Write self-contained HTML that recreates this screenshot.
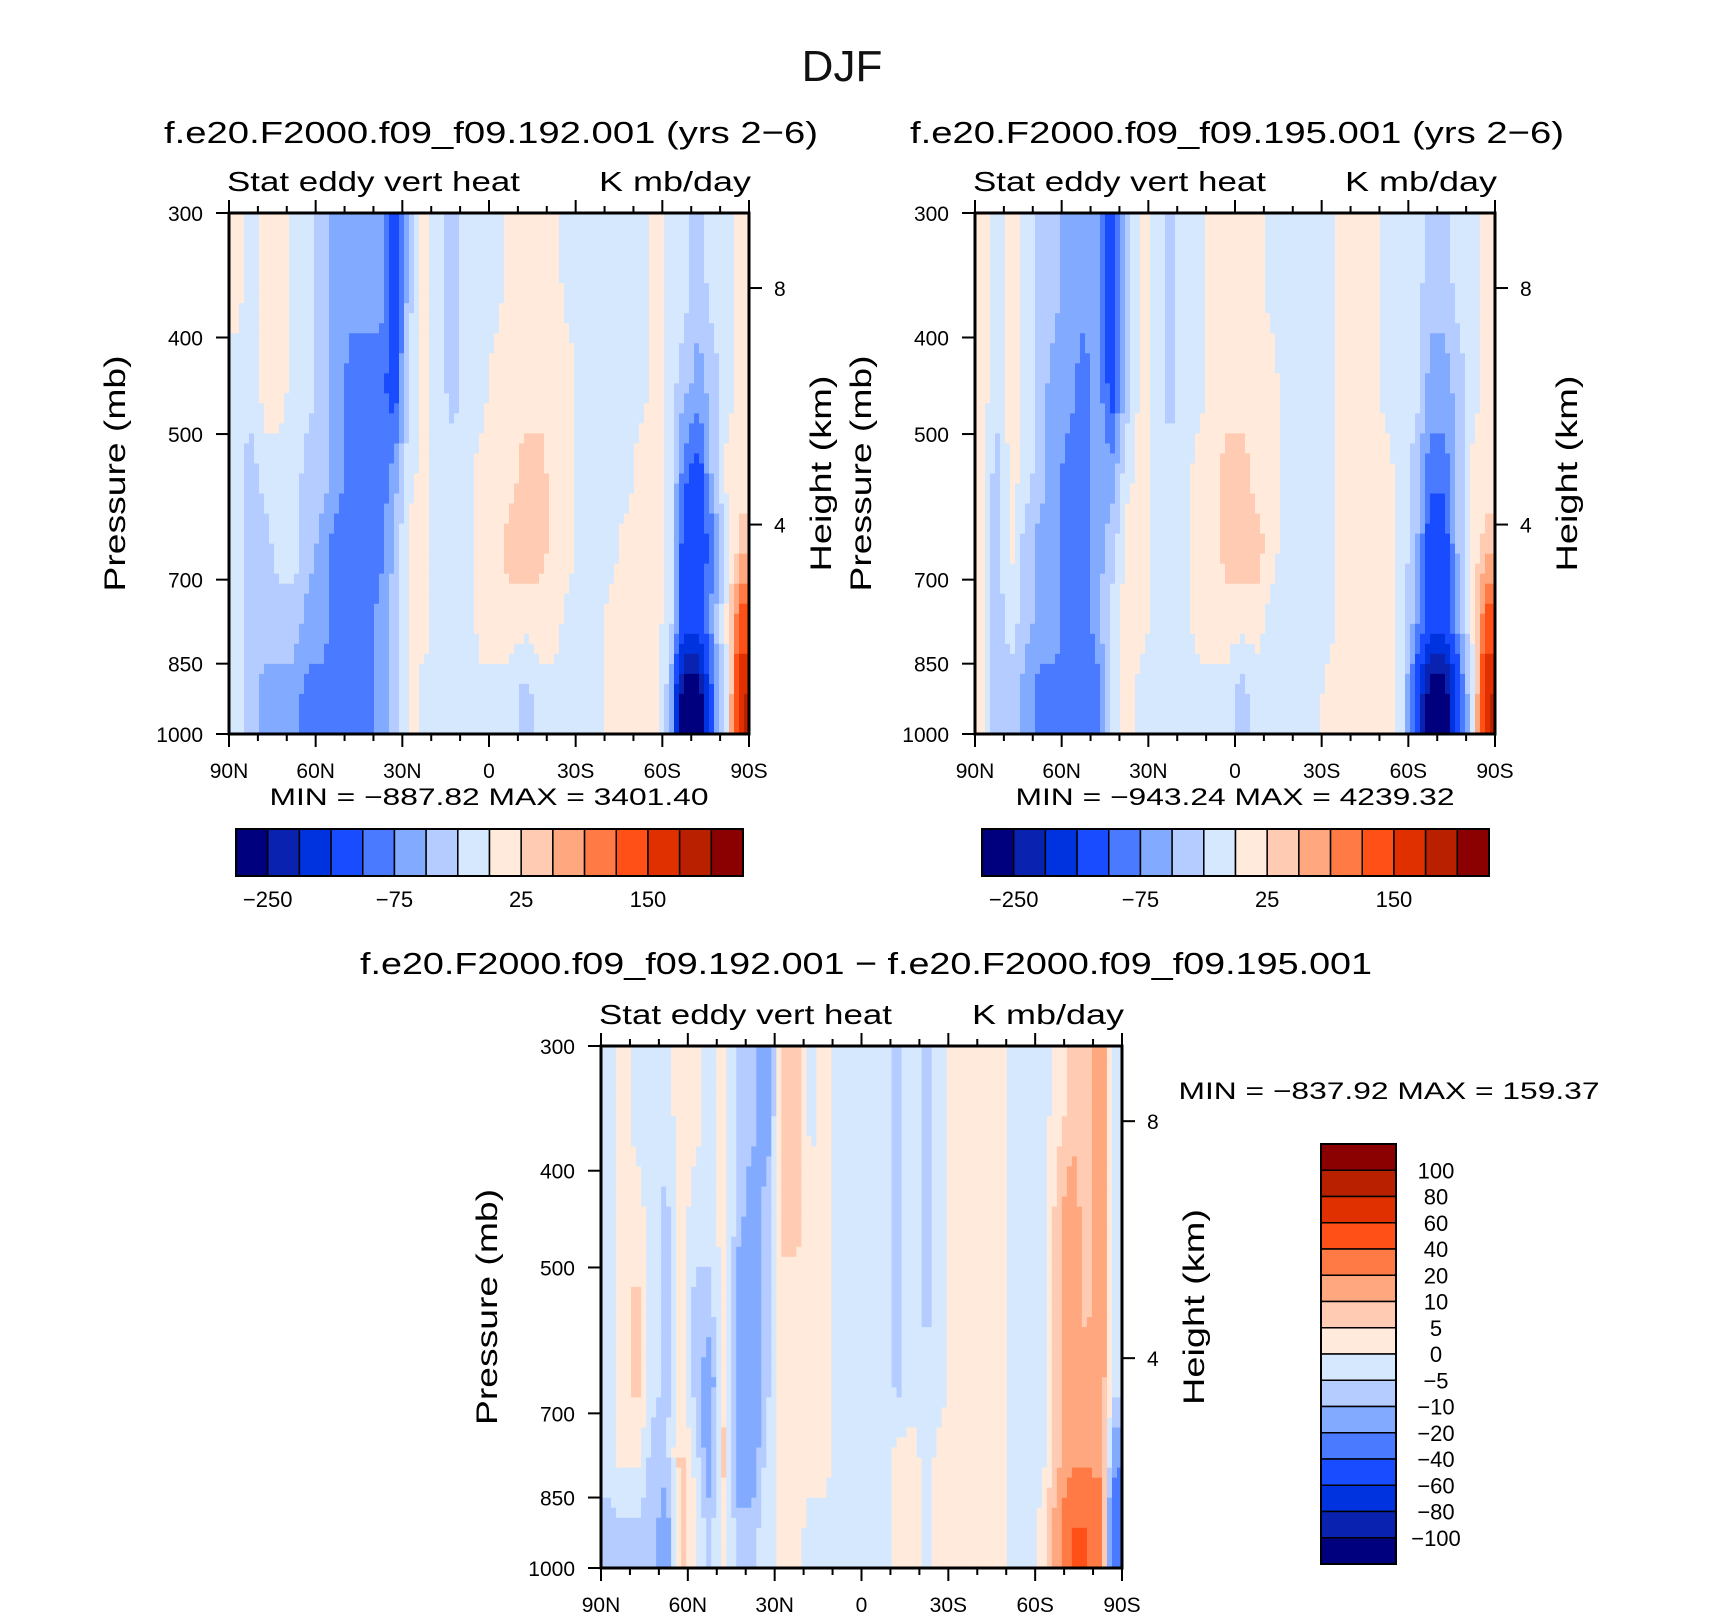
<!DOCTYPE html>
<html><head><meta charset="utf-8">
<style>
html,body{margin:0;padding:0;background:#fff;}
svg{display:block;font-family:"Liberation Sans",sans-serif;}
</style></head>
<body>
<svg id="fig" width="1710" height="1616" viewBox="0 0 1710 1616" xmlns="http://www.w3.org/2000/svg">
<rect width="1710" height="1616" fill="#fff"/>
<text x="842" y="81" font-size="44" text-anchor="middle" fill="#111">DJF</text>
<g id="gA"></g>
<g id="gB"></g>
<g id="gC"></g>
</svg>
<script>
// ---- shared data ----
const latLabels = ["90N","60N","30N","0","30S","60S","90S"];
const presTicks = [300,400,500,700,850,1000];
const presEdges = [300,400,500,600,700,850,1000];
const kmTicks = ["8","4"];
const kmFrac = [0.144,0.598];
const colors = ["#00007f","#0a22b0","#0033e0","#1a4cff","#4a7aff","#82aaff","#b4ccff","#d6e8fe","#ffeadb","#ffcbb2","#ffa880","#ff7a45","#ff5018","#e03000","#b82000","#8b0000"];
const levelsAB = [-250,-200,-150,-100,-75,-50,-25,0,25,50,75,100,150,200,250];
const levelsC = [-100,-80,-60,-40,-20,-10,-5,0,5,10,20,40,60,80,100];
const labelsAB = ["−250","−75","25","150"];
const labelsABIdx = [1,5,9,13];
const labelsC = ["100","80","60","40","20","10","5","0","−5","−10","−20","−40","−60","−80","−100"];

// ---- values: 36 lat bins (90N→90S), rows 300-400,400-500,500-600,600-700,700-850,850-1000 ----
const valsA = [
[10,-10,-10,-10,-10,-10],[-10,-10,-40,-40,-40,-40],[10,10,-10,-40,-40,-60],[10,10,-10,-10,-40,-60],
[-10,-10,-10,-10,-40,-60],[-10,-10,-40,-40,-60,-90],[-40,-40,-40,-60,-60,-90],[-60,-60,-60,-90,-90,-90],
[-60,-90,-90,-90,-90,-90],[-60,-90,-90,-90,-90,-90],[-60,-90,-90,-90,-60,-60],[-120,-120,-60,-40,-40,-40],
[-40,-10,-10,10,10,10],[10,10,10,10,10,-10],[-10,-10,-10,-10,-10,-10],[-40,-40,-10,-10,-10,-10],
[-10,-10,-10,-10,-10,-10],[-10,-10,10,10,10,-10],[-10,10,10,10,10,-10],[10,10,10,40,10,-10],
[10,10,40,40,10,-40],[10,10,40,40,10,-10],[10,10,10,10,10,-10],[-10,10,10,10,-10,-10],
[-10,-10,-10,-10,-10,-10],[-10,-10,-10,-10,-10,-10],[-10,-10,-10,-10,10,10],[-10,-10,-10,10,10,10],
[-10,-10,10,10,10,10],[10,10,10,10,10,10],[-10,-10,-10,-10,-10,-40],[-10,-40,-90,-120,-120,-300],
[-40,-60,-120,-120,-120,-300],[-10,-40,-40,-90,-60,-90],[-10,-10,10,-10,10,-10],[10,10,10,40,120,200]
];
const valsB = [
[10,10,10,10,10,10],[-10,-10,-40,-40,-40,-40],[10,10,10,10,-10,-40],[-10,-10,-10,-40,-40,-60],
[-40,-40,-40,-60,-60,-90],[-40,-60,-60,-60,-60,-90],[-60,-60,-90,-90,-90,-90],[-60,-90,-90,-90,-90,-90],
[-60,-60,-60,-60,-60,-90],[-120,-120,-60,-40,-10,-10],[-40,-40,-10,10,10,10],[10,10,10,10,10,-10],
[-10,-10,-10,-10,-10,-10],[-40,-40,-10,-10,-10,-10],[-10,-10,-10,-10,-10,-10],[-10,-10,10,10,10,-10],
[10,10,10,10,10,-10],[10,10,40,40,10,-10],[10,10,40,40,10,-40],[10,10,10,40,10,-10],
[-10,10,10,10,-10,-10],[-10,-10,-10,-10,-10,-10],[-10,-10,-10,-10,-10,-10],[-10,-10,-10,-10,-10,-10],
[-10,-10,-10,-10,-10,10],[10,10,10,10,10,10],[10,10,10,10,10,10],[10,10,10,10,10,10],
[-10,-10,10,10,10,10],[-10,-10,-10,-10,-10,-10],[-10,-10,-40,-40,-60,-120],[-40,-60,-90,-120,-120,-300],
[-40,-60,-90,-120,-120,-300],[-10,-40,-40,-40,-60,-120],[-10,-10,10,10,10,-10],[10,10,10,40,120,200]
];
const valsC = [
[-2,-2,-2,-2,-2,-7],[2,2,2,2,2,-7],[-2,2,7,7,2,-7],[-2,-2,-2,-2,-7,-7],
[-2,-7,-7,-7,-7,-15],[2,2,2,2,7,7],[2,-2,-7,-7,-2,2],[-2,-2,-7,-15,-15,-7],
[2,2,2,2,7,2],[-7,-7,-15,-15,-15,-7],[-7,-15,-15,-15,-15,-7],[-15,-7,-7,-7,-2,-2],
[7,7,2,2,2,2],[7,7,2,2,2,2],[-2,2,2,2,2,-2],[2,2,2,2,2,-2],
[-2,-2,-2,-2,-2,-2],[-2,-2,-2,-2,-2,-2],[-2,-2,-2,-2,-2,-2],[-2,-2,-2,-2,-2,-2],
[-7,-7,-7,-7,2,2],[-2,-2,-2,-2,2,2],[-7,-7,-7,-2,-2,-2],[-2,-2,-2,-2,2,2],
[2,2,2,2,2,2],[2,2,2,2,2,2],[2,2,2,2,2,2],[2,2,2,2,2,2],
[-2,-2,-2,-2,-2,-2],[-2,-2,-2,-2,-2,-2],[-2,-2,-2,-2,-2,2],[2,7,7,7,7,15],
[7,15,15,15,15,40],[7,7,7,15,15,40],[15,15,15,15,15,30],[-2,-2,-2,-2,-15,-40]
];
const statsA = "MIN = −887.82   MAX = 3401.40";
const statsB = "MIN = −943.24   MAX = 4239.32";
const statsC = "MIN = −837.92   MAX = 159.37";

const NS = "http://www.w3.org/2000/svg";
function mk(tag, attrs, parent, txt){
  const e = document.createElementNS(NS, tag);
  for (const k in attrs) e.setAttribute(k, attrs[k]);
  if (txt !== undefined) e.textContent = txt;
  parent.appendChild(e);
  return e;
}
function colorFor(v, levels){
  let i = 0;
  while (i < levels.length && v >= levels[i]) i++;
  return colors[i];
}

function drawPanel(g, o, vals, levels){
  const L=o.x, T=o.y, W=o.w, H=o.h;
  const xS = lat => L + (90 - lat) / 180 * W;
  const yS = p => T + (Math.log(p) - Math.log(300)) / (Math.log(1000) - Math.log(300)) * H;
  const nb = vals.length, nr = presEdges.length - 1;
  const cx = [], cy = [];
  for (let i = 0; i < nb; i++) cx.push((xS(90 - i*180/nb) + xS(90 - (i+1)*180/nb)) / 2);
  for (let j = 0; j < nr; j++) cy.push((yS(presEdges[j]) + yS(presEdges[j+1])) / 2);
  function interp(arr, c){
    if (c <= arr[0]) return [0, 0, 0];
    if (c >= arr[arr.length-1]) return [arr.length-1, arr.length-1, 0];
    let k = 0; while (arr[k+1] < c) k++;
    return [k, k+1, (c - arr[k]) / (arr[k+1] - arr[k])];
  }
  const NX = 104, NY = 52;
  const dx = W / NX, dy = H / NY;
  for (let a = 0; a < NX; a++){
    const px = L + (a + 0.5) * dx;
    const [i0, i1, fx] = interp(cx, px);
    for (let b = 0; b < NY; b++){
      const py = T + (b + 0.5) * dy;
      const [j0, j1, fy] = interp(cy, py);
      const v = (vals[i0][j0]*(1-fx) + vals[i1][j0]*fx) * (1-fy) + (vals[i0][j1]*(1-fx) + vals[i1][j1]*fx) * fy;
      const r = mk("rect", {x:(L + a*dx).toFixed(2), y:(T + b*dy).toFixed(2), width:(dx+0.6).toFixed(2), height:(dy+0.6).toFixed(2), fill:colorFor(v, levels)}, g);
      
      
    }
  }
  const fr = mk("rect", {x:L, y:T, width:W, height:H, fill:"none", stroke:"#000", "stroke-width":3}, g);
  
  
  for (let d = 0; d <= 180; d += 10){
    const x = xS(90 - d), maj = d % 30 === 0, len = maj ? 13 : 7;
    mk("line", {x1:x, y1:T+H, x2:x, y2:T+H+len, stroke:"#000", "stroke-width":2}, g);
    mk("line", {x1:x, y1:T, x2:x, y2:T-len, stroke:"#000", "stroke-width":2}, g);
  }
  latLabels.forEach((t, k) => {
    const e = mk("text", {x:xS(90 - 30*k), y:T+H+44, "font-size":21, "text-anchor":"middle"}, g, t);
    
    
  });
  presTicks.forEach(p => {
    const y = yS(p);
    mk("line", {x1:L-13, y1:y, x2:L, y2:y, stroke:"#000", "stroke-width":2}, g);
    const e = mk("text", {x:L-26, y:y+8, "font-size":21, "text-anchor":"end"}, g, String(p));
    
    
  });
  kmTicks.forEach((t, k) => {
    const y = T + kmFrac[k] * H;
    mk("line", {x1:L+W, y1:y, x2:L+W+13, y2:y, stroke:"#000", "stroke-width":2}, g);
    const e = mk("text", {x:L+W+25, y:y+8, "font-size":21}, g, t);
    
    
  });
  let e = mk("text", {transform:`translate(${L-104},${T+H/2}) rotate(-90)`, "font-size":30, "text-anchor":"middle", textLength:236, lengthAdjust:"spacingAndGlyphs"}, g, "Pressure  (mb)");
  
  
  e = mk("text", {transform:`translate(${L+W+82},${T+H/2}) rotate(-90)`, "font-size":30, "text-anchor":"middle", textLength:196, lengthAdjust:"spacingAndGlyphs"}, g, "Height  (km)");
  
  
  e = mk("text", {x:L-2, y:T-22, "font-size":28, textLength:293, lengthAdjust:"spacingAndGlyphs"}, g, "Stat  eddy  vert  heat");
  
  
  e = mk("text", {x:L+W+2, y:T-22, "font-size":28, "text-anchor":"end", textLength:152, lengthAdjust:"spacingAndGlyphs"}, g, "K  mb/day");
  
  
}

function hBar(g, x, y, w, h){
  const bw = w / colors.length;
  colors.forEach((c, i) => {
    const r = mk("rect", {x:x+i*bw, y:y, width:bw, height:h, fill:c, stroke:"#000", "stroke-width":1.5}, g);
    
    
  });
  mk("rect", {x:x, y:y, width:w, height:h, fill:"none", stroke:"#000", "stroke-width":2}, g);
  labelsAB.forEach((t, k) => {
    const e = mk("text", {x:x+labelsABIdx[k]*bw, y:y+h+31, "font-size":22, "text-anchor":"middle"}, g, t);
    
    
  });
}

const gA = document.getElementById("gA");
let t = mk("text", {x:491, y:143, "font-size":31, "text-anchor":"middle", textLength:654, lengthAdjust:"spacingAndGlyphs"}, gA, "f.e20.F2000.f09_f09.192.001  (yrs  2−6)");


drawPanel(gA, {x:229, y:213, w:520, h:521}, valsA, levelsAB);
t = mk("text", {x:489, y:805, "font-size":24, "text-anchor":"middle", textLength:439, lengthAdjust:"spacingAndGlyphs"}, gA, statsA);


hBar(gA, 236, 829, 507, 47);

const gB = document.getElementById("gB");
t = mk("text", {x:1237, y:143, "font-size":31, "text-anchor":"middle", textLength:654, lengthAdjust:"spacingAndGlyphs"}, gB, "f.e20.F2000.f09_f09.195.001  (yrs  2−6)");


drawPanel(gB, {x:975, y:213, w:520, h:521}, valsB, levelsAB);
t = mk("text", {x:1235, y:805, "font-size":24, "text-anchor":"middle", textLength:439, lengthAdjust:"spacingAndGlyphs"}, gB, statsB);


hBar(gB, 982, 829, 507, 47);

const gC = document.getElementById("gC");
t = mk("text", {x:866, y:974, "font-size":31, "text-anchor":"middle", textLength:1012, lengthAdjust:"spacingAndGlyphs"}, gC, "f.e20.F2000.f09_f09.192.001  −  f.e20.F2000.f09_f09.195.001");


drawPanel(gC, {x:601, y:1046, w:521, h:522}, valsC, levelsC);
t = mk("text", {x:1389, y:1099, "font-size":24, "text-anchor":"middle", textLength:421, lengthAdjust:"spacingAndGlyphs"}, gC, statsC);


(function(){
  const x=1321, y=1144, w=75, h=420, bh=h/colors.length;
  for (let i = 0; i < colors.length; i++){
    const r = mk("rect", {x:x, y:y+i*bh, width:w, height:bh, fill:colors[colors.length-1-i], stroke:"#000", "stroke-width":1.5}, gC);
    
    
  }
  mk("rect", {x:x, y:y, width:w, height:h, fill:"none", stroke:"#000", "stroke-width":2}, gC);
  labelsC.forEach((s, k) => {
    const e = mk("text", {x:1436, y:y+(k+1)*bh+8, "font-size":22, "text-anchor":"middle"}, gC, s);
    
    
  });
})();
</script>
</body></html>
